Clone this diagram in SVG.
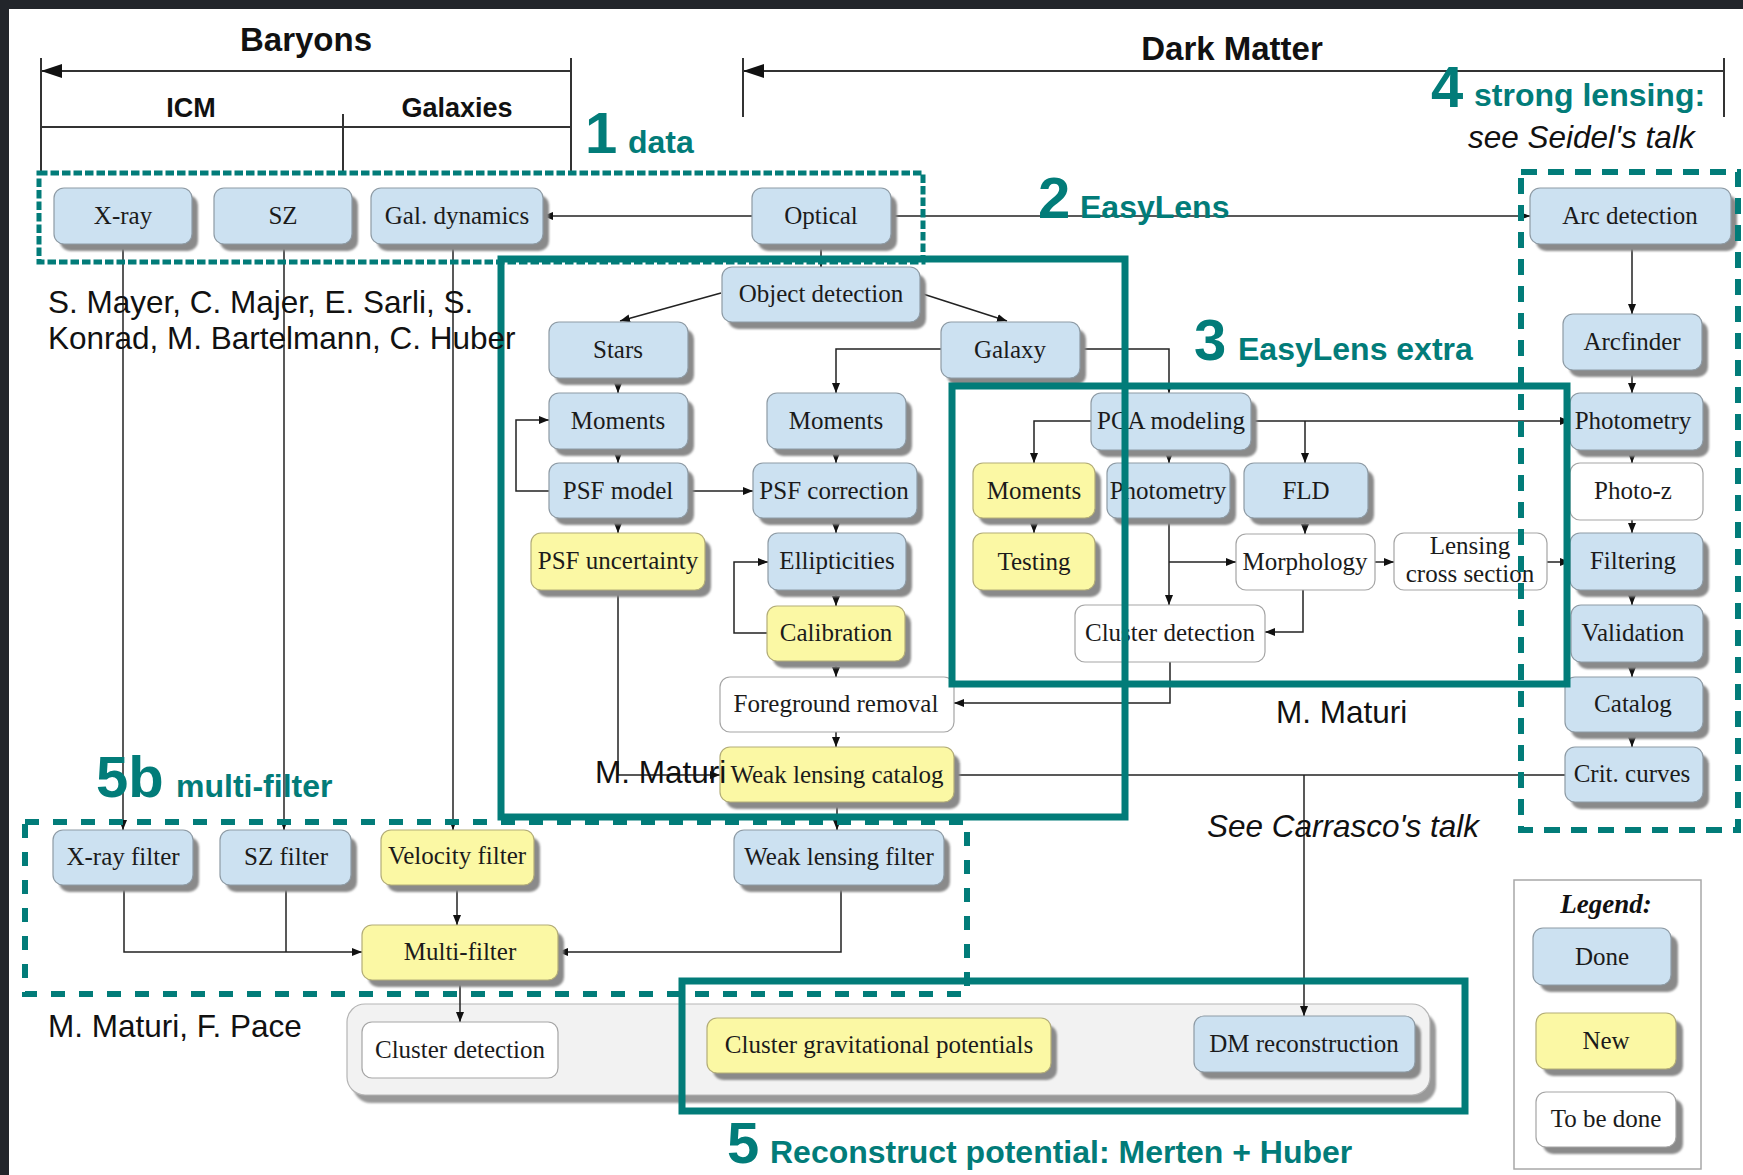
<svg xmlns="http://www.w3.org/2000/svg" width="1743" height="1175" viewBox="0 0 1743 1175">
<defs>
<style>
.done .bd{fill:#cce1f1;stroke:#8e9ba5;stroke-width:1.2}
.new .bd{fill:#fbf8a4;stroke:#b3ad78;stroke-width:1.2}
.todo .bd{fill:#ffffff;stroke:#a5a5a5;stroke-width:1.2}
.sh{fill:#8a8a8a;filter:url(#blur)}
.node text{font-family:"Liberation Serif","Times New Roman",serif;font-size:25px;text-anchor:middle;fill:#1b1b1b}
.conn path{fill:none;stroke:#222;stroke-width:1.5}
.conn .arr{marker-end:url(#ah)}
.hdr line{stroke:#333;stroke-width:2}
.hdr text{font-family:"Liberation Sans",Arial,sans-serif;font-weight:bold;fill:#111;text-anchor:middle}
.teal{fill:none;stroke:#027c79}
.tl{font-family:"Liberation Sans",Arial,sans-serif;font-weight:bold;fill:#027c79;font-size:32px}
.num{font-size:58px}
.ann{font-family:"Liberation Sans",Arial,sans-serif;font-size:31.5px;fill:#111}
</style>
<filter id="blur" x="-10%" y="-20%" width="120%" height="140%"><feGaussianBlur stdDeviation="1.3"/></filter>
<marker id="ah" viewBox="0 0 10 8" refX="10" refY="4" markerWidth="10" markerHeight="8" markerUnits="userSpaceOnUse" orient="auto"><path d="M0,0 L10,4 L0,8 z" fill="#111"/></marker>
</defs>
<rect width="1743" height="1175" fill="#ffffff"/>
<rect x="0" y="0" width="1743" height="9" fill="#22252b"/>
<rect x="0" y="0" width="9" height="1175" fill="#22252b"/>

<g id="header" class="hdr">
<line x1="41" y1="71" x2="571" y2="71"/>
<polygon points="41,71 62,64 62,78" fill="#111"/>
<line x1="41" y1="58" x2="41" y2="172"/>
<line x1="571" y1="58" x2="571" y2="172"/>
<line x1="41" y1="127" x2="571" y2="127"/>
<line x1="343" y1="114" x2="343" y2="172"/>
<text x="306" y="51" font-size="33">Baryons</text>
<text x="191" y="117" font-size="27">ICM</text>
<text x="457" y="117" font-size="27">Galaxies</text>
<line x1="743" y1="71" x2="1724" y2="71"/>
<polygon points="743,71 764,64 764,78" fill="#111"/>
<line x1="743" y1="58" x2="743" y2="117"/>
<line x1="1724" y1="58" x2="1724" y2="117"/>
<text x="1232" y="60" font-size="33">Dark Matter</text>
</g>

<g id="panel">
<rect x="353" y="1012" width="1083" height="91" rx="18" fill="#999" filter="url(#blur)"/>
<rect x="347" y="1004" width="1083" height="91" rx="18" fill="#f2f2f2" stroke="#b5b5b5" stroke-width="1.2"/>
</g>

<g id="connectors" class="conn">
<path class="arr" d="M752,216 H543"/>
<path class="arr" d="M891,216 H1530"/>
<path class="arr" d="M821,245 V267"/>
<path class="arr" d="M721,293 L620,321"/>
<path class="arr" d="M920,293 L1007,321"/>
<path class="arr" d="M618,378 V393"/>
<path class="arr" d="M618,449 V463"/>
<path class="arr" d="M549,491 H516 V420 H549"/>
<path class="arr" d="M688,491 H753"/>
<path class="arr" d="M618,518 V533"/>
<path class="arr" d="M941,349 H836 V393"/>
<path class="arr" d="M836,449 V463"/>
<path class="arr" d="M836,518 V533"/>
<path class="arr" d="M767,633 H734 V562 H768"/>
<path class="arr" d="M836,590 V606"/>
<path class="arr" d="M836,661 V677"/>
<path class="arr" d="M836,732 V747"/>
<path class="arr" d="M618,590 V775 H720"/>
<path class="arr" d="M837,802 V830"/>
<path d="M954,775 H1565"/>
<path class="arr" d="M1304,775 V1016"/>
<path class="arr" d="M1080,349 H1169 V393"/>
<path class="arr" d="M1091,421 H1034 V463"/>
<path class="arr" d="M1034,518 V533"/>
<path class="arr" d="M1169,450 V463"/>
<path class="arr" d="M1251,421 H1570"/>
<path class="arr" d="M1305,421 V463"/>
<path class="arr" d="M1305,518 V534"/>
<path class="arr" d="M1169,518 V605"/>
<path class="arr" d="M1169,562 H1236"/>
<path class="arr" d="M1375,562 H1394"/>
<path class="arr" d="M1547,562 H1570"/>
<path class="arr" d="M1303,590 V632 H1265"/>
<path class="arr" d="M1170,662 V703 H954"/>
<path class="arr" d="M1632,245 V314"/>
<path class="arr" d="M1632,370 V393"/>
<path class="arr" d="M1632,450 V463"/>
<path class="arr" d="M1632,520 V533"/>
<path class="arr" d="M1632,590 V605"/>
<path class="arr" d="M1632,662 V677"/>
<path class="arr" d="M1632,732 V747"/>
<path class="arr" d="M123,244 V830"/>
<path class="arr" d="M284,244 V830"/>
<path class="arr" d="M453,244 V830"/>
<path class="arr" d="M124,885 V952 H362"/>
<path d="M286,885 V952"/>
<path class="arr" d="M457,885 V925"/>
<path class="arr" d="M841,885 V952 H558"/>
<path class="arr" d="M460,980 V1022"/>
</g>

<g id="xray" class="node done"><rect class="sh" x="60" y="195" width="138" height="56" rx="10"/><rect class="bd" x="54" y="188" width="138" height="56" rx="10"/><text x="123" y="224">X-ray</text></g>
<g id="sz" class="node done"><rect class="sh" x="220" y="195" width="138" height="56" rx="10"/><rect class="bd" x="214" y="188" width="138" height="56" rx="10"/><text x="283" y="224">SZ</text></g>
<g id="galdyn" class="node done"><rect class="sh" x="377" y="195" width="172" height="56" rx="10"/><rect class="bd" x="371" y="188" width="172" height="56" rx="10"/><text x="457" y="224">Gal. dynamics</text></g>
<g id="optical" class="node done"><rect class="sh" x="758" y="195" width="139" height="56" rx="10"/><rect class="bd" x="752" y="188" width="139" height="56" rx="10"/><text x="821" y="224">Optical</text></g>
<g id="arcdet" class="node done"><rect class="sh" x="1536" y="195" width="201" height="56" rx="10"/><rect class="bd" x="1530" y="188" width="201" height="56" rx="10"/><text x="1630" y="224">Arc detection</text></g>

<g id="objdet" class="node done"><rect class="sh" x="728" y="274" width="198" height="55" rx="10"/><rect class="bd" x="722" y="267" width="198" height="55" rx="10"/><text x="821" y="302">Object detection</text></g>
<g id="stars" class="node done"><rect class="sh" x="555" y="329" width="139" height="56" rx="10"/><rect class="bd" x="549" y="322" width="139" height="56" rx="10"/><text x="618" y="358">Stars</text></g>
<g id="galaxy" class="node done"><rect class="sh" x="947" y="329" width="139" height="56" rx="10"/><rect class="bd" x="941" y="322" width="139" height="56" rx="10"/><text x="1010" y="358">Galaxy</text></g>
<g id="mom1" class="node done"><rect class="sh" x="555" y="400" width="139" height="56" rx="10"/><rect class="bd" x="549" y="393" width="139" height="56" rx="10"/><text x="618" y="429">Moments</text></g>
<g id="mom2" class="node done"><rect class="sh" x="773" y="400" width="139" height="56" rx="10"/><rect class="bd" x="767" y="393" width="139" height="56" rx="10"/><text x="836" y="429">Moments</text></g>
<g id="psfmodel" class="node done"><rect class="sh" x="555" y="470" width="139" height="55" rx="10"/><rect class="bd" x="549" y="463" width="139" height="55" rx="10"/><text x="618" y="499">PSF model</text></g>
<g id="psfcorr" class="node done"><rect class="sh" x="759" y="470" width="164" height="55" rx="10"/><rect class="bd" x="753" y="463" width="164" height="55" rx="10"/><text x="834" y="499">PSF correction</text></g>
<g id="psfunc" class="node new"><rect class="sh" x="537" y="540" width="174" height="57" rx="10"/><rect class="bd" x="531" y="533" width="174" height="57" rx="10"/><text x="618" y="569">PSF uncertainty</text></g>
<g id="ellip" class="node done"><rect class="sh" x="774" y="540" width="138" height="57" rx="10"/><rect class="bd" x="768" y="533" width="138" height="57" rx="10"/><text x="837" y="569">Ellipticities</text></g>
<g id="calib" class="node new"><rect class="sh" x="773" y="613" width="138" height="55" rx="10"/><rect class="bd" x="767" y="606" width="138" height="55" rx="10"/><text x="836" y="641">Calibration</text></g>
<g id="fgrem" class="node todo"><rect class="bd" x="720" y="677" width="234" height="55" rx="10"/><text x="836" y="712">Foreground removal</text></g>
<g id="wlcat" class="node new"><rect class="sh" x="726" y="754" width="234" height="55" rx="10"/><rect class="bd" x="720" y="747" width="234" height="55" rx="10"/><text x="837" y="783">Weak lensing catalog</text></g>

<g id="pca" class="node done"><rect class="sh" x="1097" y="400" width="160" height="57" rx="10"/><rect class="bd" x="1091" y="393" width="160" height="57" rx="10"/><text x="1171" y="429">PCA modeling</text></g>
<g id="momY" class="node new"><rect class="sh" x="979" y="470" width="122" height="55" rx="10"/><rect class="bd" x="973" y="463" width="122" height="55" rx="10"/><text x="1034" y="499">Moments</text></g>
<g id="phot3" class="node done"><rect class="sh" x="1113" y="470" width="123" height="55" rx="10"/><rect class="bd" x="1107" y="463" width="123" height="55" rx="10"/><text x="1168" y="499">Photometry</text></g>
<g id="fld" class="node done"><rect class="sh" x="1250" y="470" width="124" height="55" rx="10"/><rect class="bd" x="1244" y="463" width="124" height="55" rx="10"/><text x="1306" y="499">FLD</text></g>
<g id="testing" class="node new"><rect class="sh" x="979" y="540" width="122" height="57" rx="10"/><rect class="bd" x="973" y="533" width="122" height="57" rx="10"/><text x="1034" y="570">Testing</text></g>
<g id="morph" class="node todo"><rect class="bd" x="1236" y="534" width="139" height="56" rx="10"/><text x="1305" y="570">Morphology</text></g>
<g id="lcs" class="node todo"><rect class="bd" x="1394" y="533" width="153" height="57" rx="10"/><text x="1470" y="554">Lensing</text><text x="1470" y="582">cross section</text></g>
<g id="clusdet3" class="node todo"><rect class="bd" x="1075" y="605" width="190" height="57" rx="10"/><text x="1170" y="641">Cluster detection</text></g>

<g id="arcfinder" class="node done"><rect class="sh" x="1569" y="321" width="139" height="56" rx="10"/><rect class="bd" x="1563" y="314" width="139" height="56" rx="10"/><text x="1632" y="350">Arcfinder</text></g>
<g id="photR" class="node done"><rect class="sh" x="1576" y="400" width="133" height="57" rx="10"/><rect class="bd" x="1570" y="393" width="133" height="57" rx="10"/><text x="1633" y="429">Photometry</text></g>
<g id="photoz" class="node todo"><rect class="bd" x="1570" y="463" width="133" height="57" rx="10"/><text x="1633" y="499">Photo-z</text></g>
<g id="filtering" class="node done"><rect class="sh" x="1576" y="540" width="133" height="57" rx="10"/><rect class="bd" x="1570" y="533" width="133" height="57" rx="10"/><text x="1633" y="569">Filtering</text></g>
<g id="validation" class="node done"><rect class="sh" x="1577" y="612" width="132" height="57" rx="10"/><rect class="bd" x="1571" y="605" width="132" height="57" rx="10"/><text x="1633" y="641">Validation</text></g>
<g id="catalog" class="node done"><rect class="sh" x="1571" y="684" width="138" height="55" rx="10"/><rect class="bd" x="1565" y="677" width="138" height="55" rx="10"/><text x="1633" y="712">Catalog</text></g>
<g id="crit" class="node done"><rect class="sh" x="1571" y="754" width="138" height="55" rx="10"/><rect class="bd" x="1565" y="747" width="138" height="55" rx="10"/><text x="1632" y="782">Crit. curves</text></g>

<g id="xrayf" class="node done"><rect class="sh" x="59" y="837" width="140" height="55" rx="10"/><rect class="bd" x="53" y="830" width="140" height="55" rx="10"/><text x="123" y="865">X-ray filter</text></g>
<g id="szf" class="node done"><rect class="sh" x="226" y="837" width="131" height="55" rx="10"/><rect class="bd" x="220" y="830" width="131" height="55" rx="10"/><text x="286" y="865">SZ filter</text></g>
<g id="velf" class="node new"><rect class="sh" x="387" y="837" width="153" height="55" rx="10"/><rect class="bd" x="381" y="830" width="153" height="55" rx="10"/><text x="457" y="864">Velocity filter</text></g>
<g id="wlfilt" class="node done"><rect class="sh" x="740" y="837" width="210" height="55" rx="10"/><rect class="bd" x="734" y="830" width="210" height="55" rx="10"/><text x="839" y="865">Weak lensing filter</text></g>
<g id="multif" class="node new"><rect class="sh" x="368" y="932" width="196" height="55" rx="10"/><rect class="bd" x="362" y="925" width="196" height="55" rx="10"/><text x="460" y="960">Multi-filter</text></g>
<g id="clusdetB" class="node todo"><rect class="bd" x="362" y="1022" width="196" height="56" rx="10"/><text x="460" y="1058">Cluster detection</text></g>
<g id="cgp" class="node new"><rect class="sh" x="713" y="1025" width="344" height="55" rx="10"/><rect class="bd" x="707" y="1018" width="344" height="55" rx="10"/><text x="879" y="1053">Cluster gravitational potentials</text></g>
<g id="dmrec" class="node done"><rect class="sh" x="1200" y="1023" width="221" height="56" rx="10"/><rect class="bd" x="1194" y="1016" width="221" height="56" rx="10"/><text x="1304" y="1052">DM reconstruction</text></g>

<g id="legend">
<rect x="1514" y="880" width="187" height="289" fill="#fff" stroke="#a8a8a8" stroke-width="1.5"/>
<text x="1606" y="913" font-family="Liberation Serif,Times New Roman,serif" font-size="27" font-weight="bold" font-style="italic" text-anchor="middle" fill="#111">Legend:</text>
<g id="leg-done" class="node done"><rect class="sh" x="1540" y="935" width="138" height="57" rx="10"/><rect class="bd" x="1533" y="928" width="138" height="57" rx="10"/><text x="1602" y="965">Done</text></g>
<g id="leg-new" class="node new"><rect class="sh" x="1543" y="1020" width="140" height="56" rx="10"/><rect class="bd" x="1536" y="1013" width="140" height="56" rx="10"/><text x="1606" y="1049">New</text></g>
<g id="leg-todo" class="node todo"><rect class="sh" x="1543" y="1099" width="140" height="55" rx="10"/><rect class="bd" x="1536" y="1092" width="140" height="55" rx="10"/><text x="1606" y="1127">To be done</text></g>
</g>

<g id="groups">
<rect class="teal" x="39" y="173" width="884" height="89" stroke-width="5" stroke-dasharray="8.5 3"/>
<rect class="teal" x="501" y="259" width="624" height="558" stroke-width="7"/>
<rect class="teal" x="952" y="386" width="615" height="298" stroke-width="7"/>
<rect class="teal" x="1521" y="172" width="217" height="658" stroke-width="6" stroke-dasharray="16 11"/>
<rect class="teal" x="25" y="822" width="942" height="172" stroke-width="6" stroke-dasharray="14 14"/>
<rect class="teal" x="682" y="981" width="783" height="130" stroke-width="7"/>
</g>

<g id="labels">
<text class="tl num" x="585" y="153">1</text><text class="tl" x="628" y="153">data</text>
<text class="tl num" x="1038" y="218">2</text><text class="tl" x="1080" y="218">EasyLens</text>
<text class="tl num" x="1194" y="360">3</text><text class="tl" x="1238" y="360">EasyLens extra</text>
<text class="tl num" x="1431" y="107">4</text><text class="tl" x="1474" y="106">strong lensing:</text>
<text class="ann" x="1468" y="148" font-size="32" font-style="italic">see Seidel's talk</text>
<text class="tl num" x="96" y="797">5b</text><text class="tl" x="176" y="797">multi-filter</text>
<text class="tl num" x="727" y="1163">5</text><text class="tl" x="770" y="1163">Reconstruct potential: Merten + Huber</text>
<text class="ann" x="48" y="313">S. Mayer, C. Majer, E. Sarli, S.</text>
<text class="ann" x="48" y="349">Konrad, M. Bartelmann, C. Huber</text>
<text class="ann" x="595" y="783">M. Maturi</text>
<text class="ann" x="1276" y="723">M. Maturi</text>
<text class="ann" x="1207" y="837" font-size="29.5" font-style="italic">See Carrasco's talk</text>
<text class="ann" x="48" y="1037">M. Maturi, F. Pace</text>
</g>
</svg>
